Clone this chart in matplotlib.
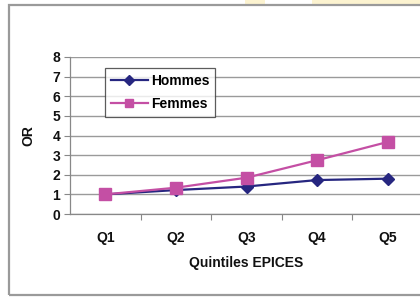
import matplotlib
matplotlib.use("Agg")
import matplotlib.pyplot as plt
from matplotlib.patches import Rectangle

categories = ["Q1", "Q2", "Q3", "Q4", "Q5"]
hommes = [1.0, 1.22, 1.4, 1.73, 1.8]
femmes = [1.0, 1.34, 1.85, 2.74, 3.67]
yticks = [0, 1, 2, 3, 4, 5, 6, 7, 8]

plt.rcParams['font.family'] = ['Liberation Sans', 'DejaVu Sans']

W, H = 420, 302
fig = plt.figure(figsize=(W / 100, H / 100), dpi=100)
fig.patch.set_facecolor('white')

# pale yellow decoration at top
fig.add_artist(Rectangle((245 / W, 1 - 3.5 / H), 20 / W, 3.5 / H, transform=fig.transFigure,
                         facecolor='#FCF3D0', edgecolor='none', zorder=0))
fig.add_artist(Rectangle((312 / W, 1 - 3.5 / H), 110 / W, 3.5 / H, transform=fig.transFigure,
                         facecolor='#FCF3D0', edgecolor='none', zorder=0))
# outer border
fig.add_artist(Rectangle((8.5 / W, 1 - 295 / H), 420 / W, (295 - 4.5) / H, transform=fig.transFigure,
                         facecolor='none', edgecolor='#9a9a9a', linewidth=1.6, zorder=1))

left, right, top, bottom = 70, 423, 57, 214
ax = fig.add_axes([left / W, 1 - bottom / H, (right - left) / W, (bottom - top) / H])
x = list(range(len(categories)))
ax.plot(x, hommes, color='#262680', marker='D', markersize=6, linewidth=1.6, label='Hommes', zorder=3)
ax.plot(x, femmes, color='#C44FA4', marker='s', markersize=8, linewidth=1.6, label='Femmes', zorder=4)

ax.set_xlim(-0.5, 4.5)
ax.set_ylim(0, 8)
ax.set_yticks(yticks)
ax.set_xticks(x)
ax.set_xticklabels(categories)
ax.set_xticks([0.5, 1.5, 2.5, 3.5], minor=True)
ax.tick_params(axis='x', which='major', length=0, pad=12, labelsize=10)
ax.tick_params(axis='x', which='minor', length=4, color='#888888', width=0.8)
ax.tick_params(axis='y', length=4, color='#888888', width=0.8, labelsize=10, pad=3)
for lab in ax.get_xticklabels() + ax.get_yticklabels():
    lab.set_fontweight('bold')
    lab.set_color('#111111')

ax.grid(axis='y', color='#9a9a9a', linewidth=1.0)
ax.set_axisbelow(True)
for s in ['top', 'right']:
    ax.spines[s].set_visible(False)
ax.spines['left'].set_color('#888888')
ax.spines['bottom'].set_color('#888888')
ax.spines['left'].set_linewidth(0.9)
ax.spines['bottom'].set_linewidth(0.9)

ax.set_xlabel('Quintiles EPICES', fontsize=10, fontweight='bold', color='#111111', labelpad=8)
ax.set_ylabel('OR', fontsize=10, fontweight='bold', color='#111111', labelpad=12)

leg = ax.legend(loc='upper left', bbox_to_anchor=((105 - left) / (right - left), (bottom - 68) / (bottom - top)),
                frameon=True, fancybox=False, edgecolor='#333333', fontsize=10,
                handlelength=2.7, handletextpad=0.2, borderpad=0.4, labelspacing=0.7,
                borderaxespad=0, markerscale=0.8)
leg.get_frame().set_linewidth(0.9)
for t in leg.get_texts():
    t.set_fontweight('bold')

fig.savefig('out.png', dpi=100, facecolor='white')
